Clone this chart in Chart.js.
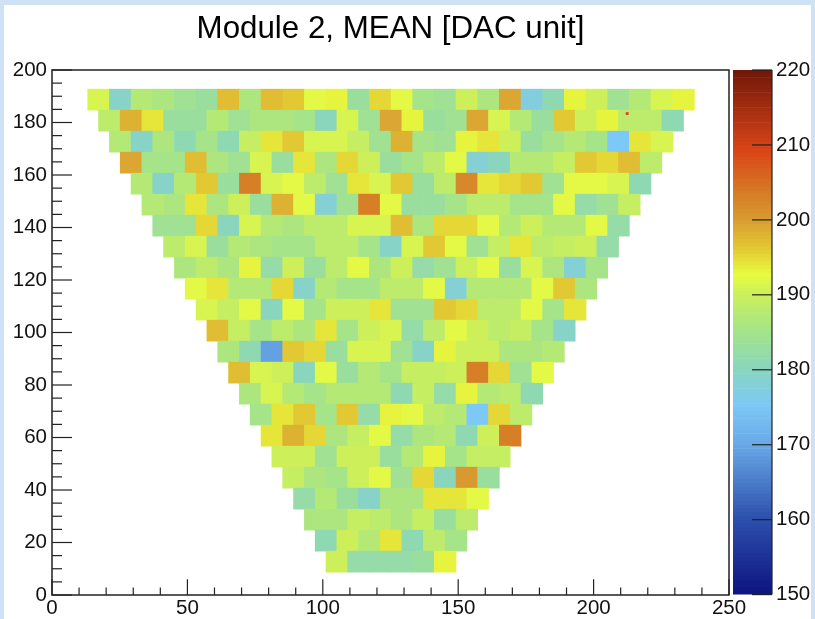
<!DOCTYPE html>
<html lang="en">

<head>
  <meta charset="UTF-8" />
  <title>Module 2, MEAN [DAC unit]</title>
  <style>
    body { margin: 0; background: #cfe2f5; }
    #page { position: absolute; left: 4px; top: 5px; width: 807px; height: 614px; background: #fff; }
    canvas { position: absolute; left: 0; top: 0; }
  </style>
</head>

<body>
  <div id="page"></div>
  <canvas id="mapChart" width="815" height="619"></canvas>
  <canvas id="barChart" width="815" height="619"></canvas>

  <script src="https://cdn.jsdelivr.net/npm/chart.js"></script>

  <script>
    // mean per channel block, one list per row, top row first
    const row01 = [191,179,187,186,184,183,197,186,197,196,192,193,183,195,192,185,184,190,186,199,177,181,193,190,184,187,191,193];
    const row02 = [188,198,194,183,183,187,184,186,186,185,180,191,184,199,193,183,184,199,191,187,183,196,190,193,188,188,181];
    const row03 = [187,179,186,181,185,181,189,194,196,191,191,189,184,198,185,184,193,194,190,183,185,187,185,175,194,191];
    const row04 = [199,185,185,197,186,184,191,183,194,186,195,190,183,185,188,192,178,180,187,187,189,196,195,197,188];
    const row05 = [187,179,187,196,183,203,191,192,188,184,194,191,196,183,188,202,194,195,196,184,192,192,191,181];
    const row06 = [187,186,194,186,190,183,198,192,178,184,203,192,183,183,185,188,188,185,185,192,182,184,189];
    const row07 = [184,184,195,180,191,187,186,188,188,191,191,197,186,195,195,192,187,190,187,187,192,182];
    const row08 = [188,191,183,187,186,185,185,188,188,185,179,191,196,192,184,189,194,188,189,190,182];
    const row09 = [186,188,186,193,182,190,183,188,192,186,190,182,184,190,192,183,191,186,178,185];
    const row10 = [192,194,187,187,195,179,187,185,185,188,188,192,178,187,187,187,192,196,186];
    const row11 = [191,189,192,180,192,185,190,190,194,184,184,196,195,188,188,192,185,194];
    const row12 = [197,189,185,188,186,194,185,190,191,182,188,192,190,188,189,185,179];
    const row13 = [186,181,169,196,195,183,191,191,184,179,193,190,190,186,186,187];
    const row14 = [197,191,190,180,192,183,187,185,189,189,190,203,195,184,192];
    const row15 = [186,191,187,185,187,187,187,181,189,182,193,187,188,181];
    const row16 = [185,194,196,185,196,182,193,192,188,187,175,195,188];
    const row17 = [194,198,195,186,189,192,182,186,187,181,190,203];
    const row18 = [190,190,184,190,190,183,187,193,185,189,189];
    const row19 = [189,186,185,190,192,184,195,180,200,183];
    const row20 = [182,187,183,179,186,186,194,194,192];
    const row21 = [186,186,189,188,186,189,183,188];
    const row22 = [181,190,187,194,181,188,185];
    const row23 = [190,182,182,182,183,193];
    const rows = [row01,row02,row03,row04,row05,row06,row07,row08,row09,row10,row11,row12,
                  row13,row14,row15,row16,row17,row18,row19,row20,row21,row22,row23];

    // left edge and centre of each row in plot units
    const rowStart = [13.2,17.2,21.2,25.2,29.2,33.2,37.2,41.2,45.2,49.2,53.2,57.2,
                      61.2,65.2,69.2,73.2,77.2,81.2,85.2,89.2,93.2,97.2,101.2];
    const rowY = [188.7,180.7,172.7,164.7,156.7,148.7,140.7,132.7,124.7,116.7,108.7,100.7,
                  92.7,84.7,76.7,68.7,60.7,52.7,44.7,36.7,28.7,20.7,12.7];
    const binWidth = 8;

    // the one hot channel in the top right of the map
    const hotChannel = [{ x: 212.4, y: 183.4 }];

    const xTicksMajor = 50;
    const yTicksMajor = 20;
    const yTicksMinor = [5, 10, 15, 25, 30, 35, 45, 50, 55, 65, 70, 75, 85, 90, 95, 105, 110, 115, 125, 130, 135, 145, 150, 155, 165, 170, 175, 185, 190, 195];

    // palette
    const paletteValues = [150, 160, 170, 175, 180, 185, 190, 192.5, 196, 200, 204, 209, 215, 220];
    const paletteColors = [[13,21,128],[45,80,173],[106,170,232],[124,200,246],[138,214,189],[165,228,136],
                           [205,240,90],[232,251,64],[226,200,50],[216,154,48],[214,118,36],[218,69,24],[160,44,16],[110,22,8]];

    function colorFor(v) {
      let i = 0;
      while (i < paletteValues.length - 2 && v > paletteValues[i + 1]) i++;
      const t = Math.min(1, Math.max(0, (v - paletteValues[i]) / (paletteValues[i + 1] - paletteValues[i])));
      const c = paletteColors[i].map((a, n) => Math.round(a + (paletteColors[i + 1][n] - a) * t));
      return `rgb(${c[0]},${c[1]},${c[2]})`;
    }

    const cells = [];
    const cellColors = [];
    rows.forEach((row, r) => {
      row.forEach((v, c) => {
        const left = rowStart[r] + c * binWidth;
        cells.push({ x: [left, left + binWidth], y: rowY[r] });
        cellColors.push(colorFor(v));
      });
    });

    const barLevels = [];
    for (let v = 150; v < 220; v += 0.5) barLevels.push(v);

    Chart.defaults.font.family = '"Liberation Sans", Arial, sans-serif';
    Chart.defaults.font.size = 20.5;
    Chart.defaults.color = '#111';
    Chart.defaults.animation = false;

    function stroke(ctx, x1, y1, x2, y2) {
      ctx.beginPath();
      ctx.moveTo(x1, y1);
      ctx.lineTo(x2, y2);
      ctx.stroke();
    }

    // ticks point inward here, which the grid options can't do
    const mapFrame = {
      id: 'mapFrame',
      afterDatasetsDraw(chart) {
        const { ctx, chartArea: a, scales } = chart;
        ctx.save();
        ctx.strokeStyle = '#222';
        ctx.lineWidth = 1.2;
        scales.x.ticks.forEach((t) => {
          const px = scales.x.getPixelForValue(t.value);
          stroke(ctx, px, a.bottom, px, a.bottom - (t.value % xTicksMajor === 0 ? 15.7 : 7.5));
        });
        scales.y.ticks.forEach((t) => {
          const py = scales.y.getPixelForValue(t.value);
          stroke(ctx, a.left, py, a.left + 20, py);
        });
        yTicksMinor.forEach((v) => {
          const py = scales.y.getPixelForValue(v);
          stroke(ctx, a.left, py, a.left + 10, py);
        });
        ctx.lineWidth = 1.5;
        ctx.strokeRect(a.left, a.top, a.right - a.left, a.bottom - a.top);
        ctx.restore();
      }
    };

    const barFrame = {
      id: 'barFrame',
      afterDatasetsDraw(chart) {
        const { ctx, chartArea: a, scales } = chart;
        ctx.save();
        ctx.strokeStyle = '#222';
        ctx.lineWidth = 1.2;
        scales.y.ticks.forEach((t) => {
          const py = scales.y.getPixelForValue(t.value);
          stroke(ctx, a.right, py, a.right - 20, py);
        });
        stroke(ctx, a.right, a.top, a.right, a.bottom);
        ctx.restore();
      }
    };

    new Chart(document.getElementById('mapChart'), {
      type: 'bar',
      data: {
        datasets: [
          {
            type: 'scatter',
            data: hotChannel,
            pointStyle: 'rect',
            pointRadius: 2,
            pointBackgroundColor: '#e0401c',
            pointBorderWidth: 0,
            order: 0
          },
          {
            indexAxis: 'y',
            data: cells,
            backgroundColor: cellColors,
            borderWidth: 0,
            grouped: false,
            categoryPercentage: 1,
            barPercentage: 1,
            order: 1
          }
        ]
      },
      options: {
        responsive: false,
        layout: { padding: { right: 86 } },
        plugins: {
          legend: { display: false },
          tooltip: { enabled: false },
          title: {
            display: true,
            text: 'Module 2, MEAN [DAC unit]',
            fullSize: false,
            color: '#000',
            font: { size: 31.3, weight: 'normal', lineHeight: 1.2 },
            padding: { top: 11, bottom: 21.44 }
          }
        },
        scales: {
          x: {
            type: 'linear',
            min: 0,
            max: 250,
            offset: false,
            afterFit: (s) => { s.height = 24; },
            grid: { display: false, offset: false, drawTicks: false },
            border: { display: false },
            ticks: {
              stepSize: 10,
              autoSkip: false,
              maxRotation: 0,
              padding: 1,
              callback: (v) => (v % xTicksMajor === 0 ? v : '')
            }
          },
          y: {
            type: 'linear',
            min: 0,
            max: 200,
            offset: false,
            afterFit: (s) => { s.width = 52; },
            grid: { display: false, offset: false, drawTicks: false },
            border: { display: false },
            ticks: { stepSize: yTicksMajor, autoSkip: false, padding: 5 }
          }
        }
      },
      plugins: [mapFrame]
    });

    new Chart(document.getElementById('barChart'), {
      type: 'bar',
      data: {
        datasets: [{
          indexAxis: 'y',
          data: barLevels.map((v) => ({ x: [0, 1], y: v + 0.25 })),
          backgroundColor: barLevels.map((v) => colorFor(v)),
          borderWidth: 0,
          grouped: false,
          categoryPercentage: 1,
          barPercentage: 1
        }]
      },
      options: {
        responsive: false,
        layout: { padding: { left: 733, top: 70, bottom: 24.4 } },
        plugins: { legend: { display: false }, tooltip: { enabled: false } },
        scales: {
          x: { type: 'linear', min: 0, max: 1, display: false, offset: false, grid: { offset: false } },
          y: {
            type: 'linear',
            position: 'right',
            min: 150,
            max: 220,
            offset: false,
            afterFit: (s) => { s.width = 43; },
            grid: { display: false, offset: false, drawTicks: false },
            border: { display: false },
            ticks: { stepSize: 10, padding: 4 }
          }
        }
      },
      plugins: [barFrame]
    });
  </script>

</body>
</html>
